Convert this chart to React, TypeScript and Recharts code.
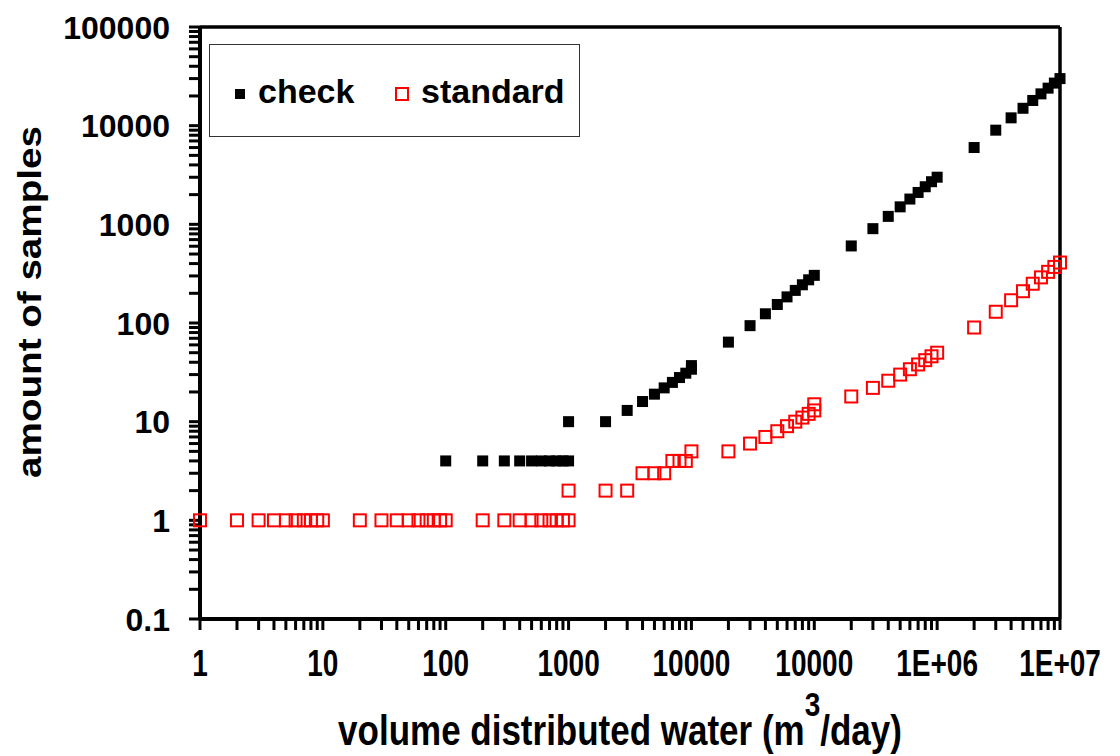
import React from 'react';
import { ScatterChart, Scatter, XAxis, YAxis, ReferenceLine, Legend } from 'recharts';

// ---------- data ----------
const checkQ = [
  100, 200, 300, 400, 500, 600, 700, 800, 900, 1000,
  1000, 2000, 3000, 4000, 5000, 6000, 7000, 8000, 9000, 10000, 10000,
  20000, 30000, 40000, 50000, 60000, 70000, 80000, 90000, 100000,
  200000, 300000, 400000, 500000, 600000, 700000, 800000, 900000, 1000000,
  2000000, 3000000, 4000000, 5000000, 6000000, 7000000, 8000000, 9000000, 10000000,
];
const checkN = [
  4, 4, 4, 4, 4, 4, 4, 4, 4, 4,
  10, 10, 13, 16, 19, 22, 25, 28, 31, 34, 37,
  64, 94, 124, 154, 184, 214, 244, 274, 304,
  604, 904, 1204, 1504, 1804, 2104, 2404, 2704, 3004,
  6004, 9004, 12004, 15004, 18004, 21004, 24004, 27004, 30004,
];

const standardQ = [
  1, 2, 3, 4, 5, 6, 7, 8, 9, 10,
  20, 30, 40, 50, 60, 70, 80, 90, 100,
  200, 300, 400, 500, 600, 700, 800, 900, 1000,
  1000, 2000, 3000, 4000, 5000, 6000, 7000, 8000, 9000, 10000,
  20000, 30000, 40000, 50000, 60000, 70000, 80000, 90000, 100000, 100000,
  200000, 300000, 400000, 500000, 600000, 700000, 800000, 900000, 1000000,
  2000000, 3000000, 4000000, 5000000, 6000000, 7000000, 8000000, 9000000, 10000000,
];
const standardN = [
  1, 1, 1, 1, 1, 1, 1, 1, 1, 1,
  1, 1, 1, 1, 1, 1, 1, 1, 1,
  1, 1, 1, 1, 1, 1, 1, 1, 1,
  2, 2, 2, 3, 3, 3, 4, 4, 4, 5,
  5, 6, 7, 8, 9, 10, 11, 12, 13, 15,
  18, 22, 26, 30, 34, 38, 42, 46, 50,
  90, 130, 170, 210, 250, 290, 330, 370, 410,
];

const xMajor = [1, 10, 100, 1000, 10000, 100000, 1000000, 10000000];
const xTickLabels = ['1', '10', '100', '1000', '10000', '10000', '1E+06', '1E+07'];
const yMajor = [0.1, 1, 10, 100, 1000, 10000, 100000];
const yTickLabels = ['0.1', '1', '10', '100', '1000', '10000', '100000'];

const seriesNames = ['check', 'standard'];
const xTitle = 'volume distributed water (m';
const xTitleSup = '3';
const xTitleEnd = '/day)';
const yTitle = 'amount of samples';

// ---------- derived ----------
const checkData = checkQ.map((q, i) => ({ q, n: checkN[i] }));
const standardData = standardQ.map((q, i) => ({ q, n: standardN[i] }));

const withMinor = (majors: number[]) => {
  const out: number[] = [];
  majors.forEach((m, i) => {
    out.push(m);
    if (i < majors.length - 1) {
      for (let k = 2; k <= 9; k++) out.push(Number((m * k).toPrecision(6)));
    }
  });
  return out;
};
const xTicks = withMinor(xMajor);
const yTicks = withMinor(yMajor);

const FONT = '"Liberation Sans", Arial, Helvetica, sans-serif';
const TICK = 11;

const renderXTick = (props: any) => {
  const { x, y, payload } = props;
  const idx = xMajor.indexOf(payload.value);
  if (idx < 0) return <g />;
  const by = y + 44;
  return (
    <text
      transform={`translate(${x}, ${by}) scale(1, 1.35)`}
      x={0}
      y={0}
      textAnchor="middle"
      fontFamily={FONT}
      fontWeight="bold"
      fontSize={28}
      fill="#000"
    >
      {xTickLabels[idx]}
    </text>
  );
};

const renderYTick = (props: any) => {
  const { x, y, payload } = props;
  const idx = yMajor.indexOf(payload.value);
  if (idx < 0) return <g />;
  return (
    <text x={x - 17} y={y + 11.5} textAnchor="end" fontFamily={FONT} fontWeight="bold" fontSize={32} fill="#000">
      {yTickLabels[idx]}
    </text>
  );
};

const CheckShape = (props: any) => {
  const { cx, cy } = props;
  return <rect x={cx - 5.5} y={cy - 5.5} width={11} height={11} fill="#000" />;
};
const StandardShape = (props: any) => {
  const { cx, cy } = props;
  return <rect x={cx - 6} y={cy - 6} width={12} height={12} fill="none" stroke="#ff0000" strokeWidth={2} />;
};

const LegendBox = () => (
  <div
    style={{
      width: 371,
      height: 93,
      boxSizing: 'border-box',
      border: '1.5px solid #333',
      background: '#fff',
      position: 'relative',
      fontFamily: FONT,
      fontWeight: 'bold',
      fontSize: 34,
      color: '#000',
    }}
  >
    <div style={{ position: 'absolute', left: 25, top: 44, width: 10, height: 10, background: '#000' }} />
    <div style={{ position: 'absolute', left: 48, top: 27, lineHeight: '38px' }}>{seriesNames[0]}</div>
    <div
      style={{
        position: 'absolute', left: 185, top: 42, width: 14, height: 14,
        boxSizing: 'border-box', border: '2px solid #ff0000',
      }}
    />
    <div style={{ position: 'absolute', left: 211, top: 27, lineHeight: '38px' }}>{seriesNames[1]}</div>
  </div>
);

const YLabel = () => (
  <text
    transform="translate(22, 294) rotate(-90) scale(1.17, 1)"
    x={0}
    y={0}
    textAnchor="middle"
    dominantBaseline="central"
    fontFamily={FONT}
    fontWeight="bold"
    fontSize={33}
    fill="#000"
  >
    {yTitle}
  </text>
);

const XLabel = () => (
  <text
    transform="translate(612, 737) scale(1, 1.2)"
    x={0}
    y={0}
    textAnchor="middle"
    fontFamily={FONT}
    fontWeight="bold"
    fontSize={35}
    fill="#000"
  >
    {xTitle}
    <tspan dy={-24} fontSize={28}>{xTitleSup}</tspan>
    <tspan dy={24}>{xTitleEnd}</tspan>
  </text>
);

export default function App() {
  return (
    <div style={{ position: 'relative', width: 1112, height: 748 }}>
      <ScatterChart width={1112} height={748} margin={{ top: 19, right: 60, bottom: 0, left: 0 }}>
        <XAxis
          type="number"
          dataKey="q"
          scale="log"
          domain={[1, 10000000]}
          ticks={xTicks}
          interval={0}
          height={137}
          tickSize={TICK}
          tickLine={{ stroke: '#000', strokeWidth: 3 }}
          axisLine={{ stroke: '#000', strokeWidth: 4 }}
          tick={renderXTick}
          label={{ content: () => <XLabel /> }}
        />
        <YAxis
          type="number"
          dataKey="n"
          scale="log"
          domain={[0.1, 100000]}
          ticks={yTicks}
          interval={0}
          width={192}
          tickSize={TICK}
          tickLine={{ stroke: '#000', strokeWidth: 3 }}
          axisLine={{ stroke: '#000', strokeWidth: 4 }}
          tick={renderYTick}
          label={{ content: () => <YLabel /> }}
        />
        <ReferenceLine y={100000} stroke="#000" strokeWidth={3.5} ifOverflow="visible" />
        <ReferenceLine x={10000000} stroke="#000" strokeWidth={3.5} ifOverflow="visible" />
        <Legend
          layout="horizontal"
          verticalAlign="middle"
          align="center"
          wrapperStyle={{ left: 201, top: 36, width: 371, height: 93 }}
          content={() => <LegendBox />}
        />
        <Scatter name={seriesNames[0]} data={checkData} shape={<CheckShape />} isAnimationActive={false} />
        <Scatter name={seriesNames[1]} data={standardData} shape={<StandardShape />} isAnimationActive={false} />
      </ScatterChart>
    </div>
  );
}
